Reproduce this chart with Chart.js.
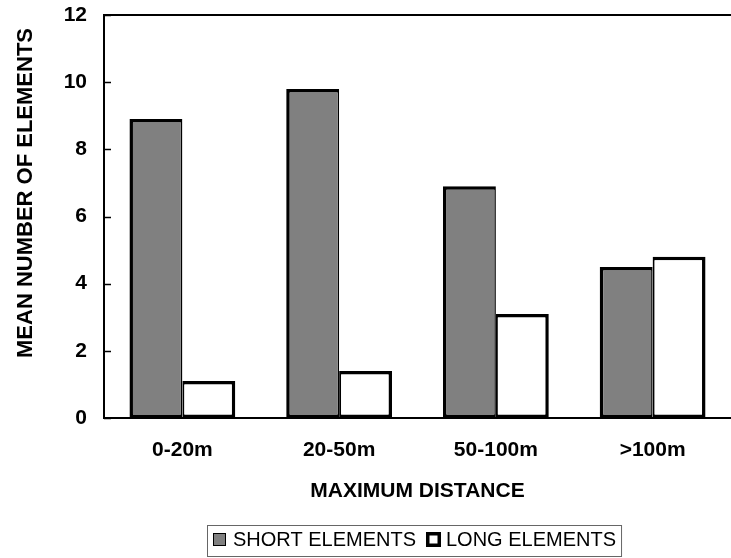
<!DOCTYPE html>
<html><head><meta charset="utf-8">
<script src="https://cdn.jsdelivr.net/npm/chart.js@4"></script>
<style>html,body{margin:0;padding:0;background:#fff}#wrap{width:731px;height:558px}</style>
</head><body><div id="wrap"><canvas id="c" width="731" height="558"></canvas></div>
<script>
const categories = ["0-20m", "20-50m", "50-100m", ">100m"];
const shortElements = [8.9, 9.8, 6.9, 4.5];
const longElements = [1.1, 1.4, 3.1, 4.8];
const yTicks = [0, 2, 4, 6, 8, 10, 12];
const seriesNames = ["SHORT ELEMENTS", "LONG ELEMENTS"];
const yTitle = "MEAN NUMBER OF ELEMENTS";
const xTitle = "MAXIMUM DISTANCE";

const FONT = "'Liberation Sans', Arial, sans-serif";

const extras = {
  id: 'extras',
  afterDraw(chart) {
    const ctx = chart.ctx, y = chart.scales.y, ca = chart.chartArea;
    ctx.save();
    // inward tick marks
    ctx.strokeStyle = '#000';
    ctx.lineWidth = 1.5;
    yTicks.forEach(v => {
      const py = Math.round(y.getPixelForValue(v)) + 0.5;
      ctx.beginPath(); ctx.moveTo(ca.left, py); ctx.lineTo(ca.left + 7, py); ctx.stroke();
    });
    // top frame line
    ctx.lineWidth = 2;
    ctx.beginPath(); ctx.moveTo(ca.left - 1, ca.top); ctx.lineTo(ca.right, ca.top); ctx.stroke();

    ctx.fillStyle = '#000';
    // x title
    ctx.font = 'bold 21px ' + FONT;
    ctx.textAlign = 'center';
    ctx.textBaseline = 'middle';
    ctx.fillText(xTitle, (ca.left + ca.right) / 2, ca.bottom + 73);

    // y title
    ctx.font = 'bold 22px ' + FONT;
    ctx.translate(26, 193);
    ctx.rotate(-Math.PI / 2);
    ctx.fillText(yTitle, 0, 0);
    ctx.setTransform(1, 0, 0, 1, 0, 0);

    // legend
    const ds = chart.data.datasets;
    ctx.font = '20px ' + FONT;
    const sqs = [13, 15], padL = 6, gapT = [7, 5], gapB = 10, padR = 5;
    const w = ds.map(d => ctx.measureText(d.label).width);
    const total = padL + sqs[0] + gapT[0] + w[0] + gapB + sqs[1] + gapT[1] + w[1] + padR;
    const cx = (ca.left + ca.right) / 2 - 3;
    const left = Math.round(cx - total / 2);
    const top = chart.height - 33, h = 32;
    ctx.strokeStyle = '#666';
    ctx.lineWidth = 1;
    ctx.strokeRect(left + 0.5, top + 0.5, total, h - 1);
    let x = left + padL;
    const midY = top + 14;
    ds.forEach((d, i) => {
      const sq = sqs[i];
      const sy = Math.round(midY - sq / 2);
      ctx.fillStyle = d.backgroundColor;
      ctx.fillRect(x, sy, sq, sq);
      ctx.strokeStyle = '#000';
      if (i === 0) {
        ctx.lineWidth = 1;
        ctx.strokeRect(x + 0.5, sy + 0.5, sq - 1, sq - 1);
      } else {
        ctx.lineWidth = 3.5;
        ctx.strokeRect(x + 1.75, sy + 1.75, sq - 3.5, sq - 3.5);
      }
      x += sq + gapT[i];
      ctx.fillStyle = '#000';
      ctx.textAlign = 'left';
      ctx.textBaseline = 'middle';
      ctx.fillText(d.label, x, midY + 1);
      x += w[i] + gapB;
    });
    ctx.restore();
  }
};

new Chart(document.getElementById('c'), {
  type: 'bar',
  data: {
    labels: categories,
    datasets: [
      { label: seriesNames[0], data: shortElements, backgroundColor: '#808080', borderColor: '#000',
        borderWidth: { top: 3.5, left: 3.5, bottom: 3.5, right: 1.5 }, borderSkipped: false },
      { label: seriesNames[1], data: longElements, backgroundColor: '#ffffff', borderColor: '#000',
        borderWidth: { top: 3.5, left: 2, bottom: 3.5, right: 3.5 }, borderSkipped: false }
    ]
  },
  options: {
    responsive: false,
    animation: false,
    devicePixelRatio: 1,
    layout: { padding: { top: 15, right: 0, left: 0, bottom: 0 } },
    datasets: { bar: { categoryPercentage: 0.675, barPercentage: 1.0 } },
    plugins: {
      tooltip: { enabled: false },
      legend: { display: false }
    },
    scales: {
      x: {
        afterFit(s) { s.height = 140; s.paddingLeft = 0; s.paddingRight = 0; },
        grid: { display: false, drawTicks: false },
        border: { color: '#000', width: 2 },
        ticks: { color: '#000', font: { family: FONT, size: 21, weight: 'bold' }, padding: 20 }
      },
      y: {
        min: 0, max: 12,
        afterBuildTicks(s) { s.ticks = yTicks.map(v => ({ value: v })); },
        afterFit(s) { s.width = 104; s.paddingTop = 0; s.paddingBottom = 0; },
        grid: { display: false, drawTicks: false },
        border: { color: '#000', width: 2 },
        ticks: { color: '#000', font: { family: FONT, size: 21, weight: 'bold' }, padding: 17 }
      }
    }
  },
  plugins: [extras]
});
</script></body></html>
